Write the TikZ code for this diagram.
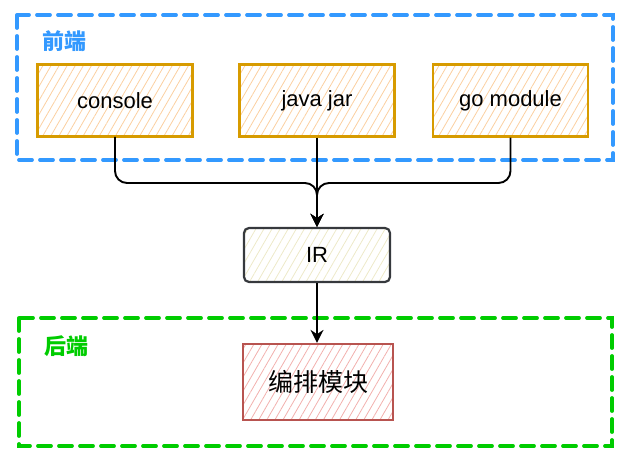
\documentclass[tikz,border=0pt]{standalone}
\usepackage{fontspec}
\setmainfont{Liberation Sans}
\newfontfamily\cjk{Noto Sans CJK SC}
\usetikzlibrary{arrows.meta,patterns.meta}
\definecolor{frontblue}{HTML}{3399FF}
\definecolor{backgreen}{HTML}{00CC00}
\definecolor{srcline}{HTML}{D79B00}
\definecolor{srchatch}{HTML}{FBCFA0}
\definecolor{irline}{HTML}{36393D}
\definecolor{irhatch}{HTML}{EDE9C8}
\definecolor{modline}{HTML}{B85450}
\definecolor{modhatch}{HTML}{F2B0AD}

\begin{document}
\begin{tikzpicture}[x=1pt, y=-1pt,
  frame/.style={line width=3.8pt, dash pattern=on 13pt off 8pt, line cap=round},
  tag/.style={anchor=west, font=\cjk\bfseries\fontsize{22}{26}\selectfont},
  srcbox/.style={draw=srcline, line width=2.4pt, minimum width=155pt, minimum height=72pt,
    pattern={Lines[angle=60, distance=7pt, line width=0.8pt]}, pattern color=srchatch,
    font=\fontsize{22}{26}\selectfont},
  irbox/.style={draw=irline, line width=2.2pt, rounded corners=5pt, minimum width=146pt, minimum height=54pt,
    pattern={Lines[angle=60, distance=7pt, line width=0.8pt]}, pattern color=irhatch,
    font=\fontsize{22}{26}\selectfont},
  modbox/.style={draw=modline, line width=2.2pt, minimum width=150pt, minimum height=76pt,
    pattern={Lines[angle=60, distance=7pt, line width=0.8pt]}, pattern color=modhatch,
    font=\cjk\fontsize{25}{30}\selectfont},
  conn/.style={line width=1.9pt, rounded corners=12pt, -{Stealth[length=13pt, width=13pt]}}]
\useasboundingbox (0,0) rectangle (626,462);

% frames
\draw[frame, frontblue] (17,15) rectangle (613,160);
\draw[frame, backgreen] (19,318) rectangle (612,446);
\node[tag, text=frontblue] (frontlbl) at (39,41) {前端};
\node[tag, text=backgreen] (backlbl) at (41,346) {后端};

% boxes
\node[srcbox] (console) at (115,100.5) {console};
\node[srcbox] (javajar) at (317,100.5) {java jar};
\node[srcbox] (gomod) at (510.5,100.5) {go module};
\node[irbox] (ir) at (317,255) {IR};
\node[modbox] (orch) at (318,382) {编排模块};
\coordinate (join) at (317,183);

% connectors
\draw[conn] (console.south) |- (join) -- (ir.north);
\draw[conn] (gomod.south) |- (join) -- (ir.north);
\draw[conn] (javajar.south) -- (ir.north);
\draw[conn] (ir.south) -- (ir.south |- orch.north);
\end{tikzpicture}
\end{document}
